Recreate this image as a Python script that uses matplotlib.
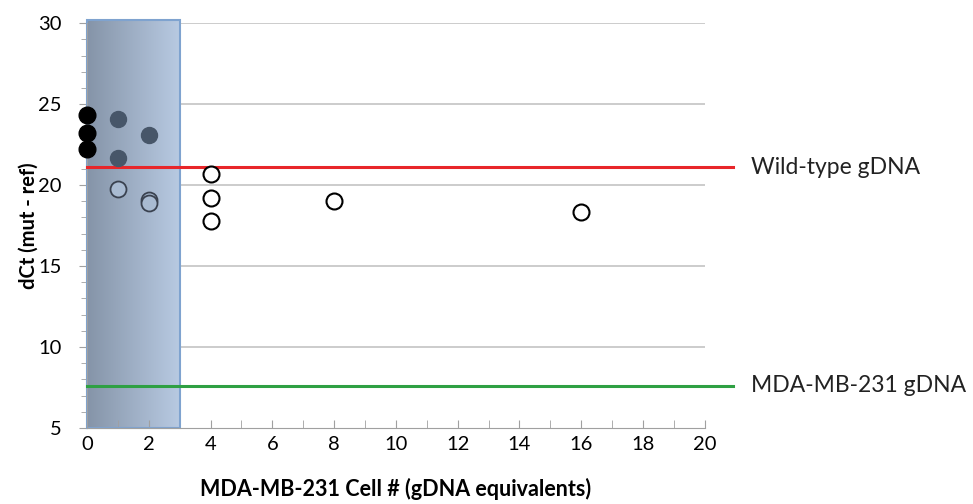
import numpy as np
import matplotlib.pyplot as plt
from matplotlib.patches import Rectangle
from matplotlib.colors import LinearSegmentedColormap

plt.rcParams['font.family'] = ['Lato', 'DejaVu Sans']

# data
x_solid_edge = [0, 0, 0]
y_solid_edge = [24.3, 23.2, 22.2]
x_solid = [1, 1, 2]
y_solid = [24.1, 21.7, 23.1]
x_open_box = [1, 2, 2]
y_open_box = [19.75, 19.1, 18.9]
x_open = [4, 4, 4, 8, 16]
y_open = [20.7, 19.2, 17.8, 19.0, 18.35]

wild_type = 21.1
mda_gdna = 7.6
box_right = 3.0

fig = plt.figure(figsize=(9.73, 5.04), dpi=100)
ax = fig.add_axes([0.0894, 0.151, 0.635, 0.803])
ax.set_xlim(0, 20)
ax.set_ylim(5, 30)

# gridlines
for v in [10, 15, 20, 25, 30]:
    ax.axhline(v, color='#c8c8c8', lw=1.3, zorder=0)

# shaded region with gradient
grad = np.linspace(0, 1, 256).reshape(1, -1)
cmap = LinearSegmentedColormap.from_list('g', ['#8594a8', '#b8cae2'])
ax.imshow(grad, extent=[0, box_right, 5, 30.2], aspect='auto', cmap=cmap,
          zorder=1, clip_on=False)
ax.add_patch(Rectangle((0, 5), box_right, 25.2, fill=False, ec='#7fa3cf',
                       lw=1.5, zorder=2, clip_on=False))

# reference lines (extend past the axes)
ax.plot([0, 20.9], [wild_type, wild_type], color='#e8262a', lw=2.2,
        zorder=3, clip_on=False)
ax.plot([0, 20.9], [mda_gdna, mda_gdna], color='#2ea043', lw=2.2,
        zorder=3, clip_on=False)

ax.plot(x_solid_edge, y_solid_edge, 'o', ms=12, color='black', zorder=5,
        clip_on=False)
ax.plot(x_solid, y_solid, 'o', ms=11.5, color='#475669', zorder=5)
ax.plot(x_open_box, y_open_box, 'o', ms=11.5, mfc='#a9bbd2', mec='#3a4250',
        mew=1.3, zorder=5)
ax.plot(x_open, y_open, 'o', ms=11.5, mfc='white', mec='black', mew=1.5,
        zorder=5)

ax.annotate('Wild-type gDNA', xy=(21.5, wild_type), fontsize=16.5,
            va='center', ha='left', color='#222222', annotation_clip=False)
ax.annotate('MDA-MB-231 gDNA', xy=(21.5, mda_gdna), fontsize=16.5,
            va='center', ha='left', color='#222222', annotation_clip=False)

for s in ['top', 'right']:
    ax.spines[s].set_visible(False)
ax.spines['left'].set_color('#a0a0a0')
ax.spines['bottom'].set_color('#a0a0a0')

ax.set_xticks(range(0, 21, 2))
ax.set_xticks(range(0, 21), minor=True)
ax.set_yticks(range(5, 31, 5))
ax.set_yticks(range(5, 31), minor=True)
ax.tick_params(axis='x', which='both', direction='in', length=6,
               color='#a0a0a0', labelsize=14.5, pad=6)
ax.tick_params(axis='y', which='major', direction='out', length=6,
               color='#a0a0a0', labelsize=14.5, pad=12)
ax.tick_params(axis='y', which='minor', direction='out', length=4,
               color='#a0a0a0')

ax.set_xlabel('MDA-MB-231 Cell # (gDNA equivalents)', fontsize=15.5,
              fontweight='bold', labelpad=18)
ax.set_ylabel('dCt (mut - ref)', fontsize=14.5, fontweight='bold', labelpad=0)

fig.savefig('out.png', dpi=100)
